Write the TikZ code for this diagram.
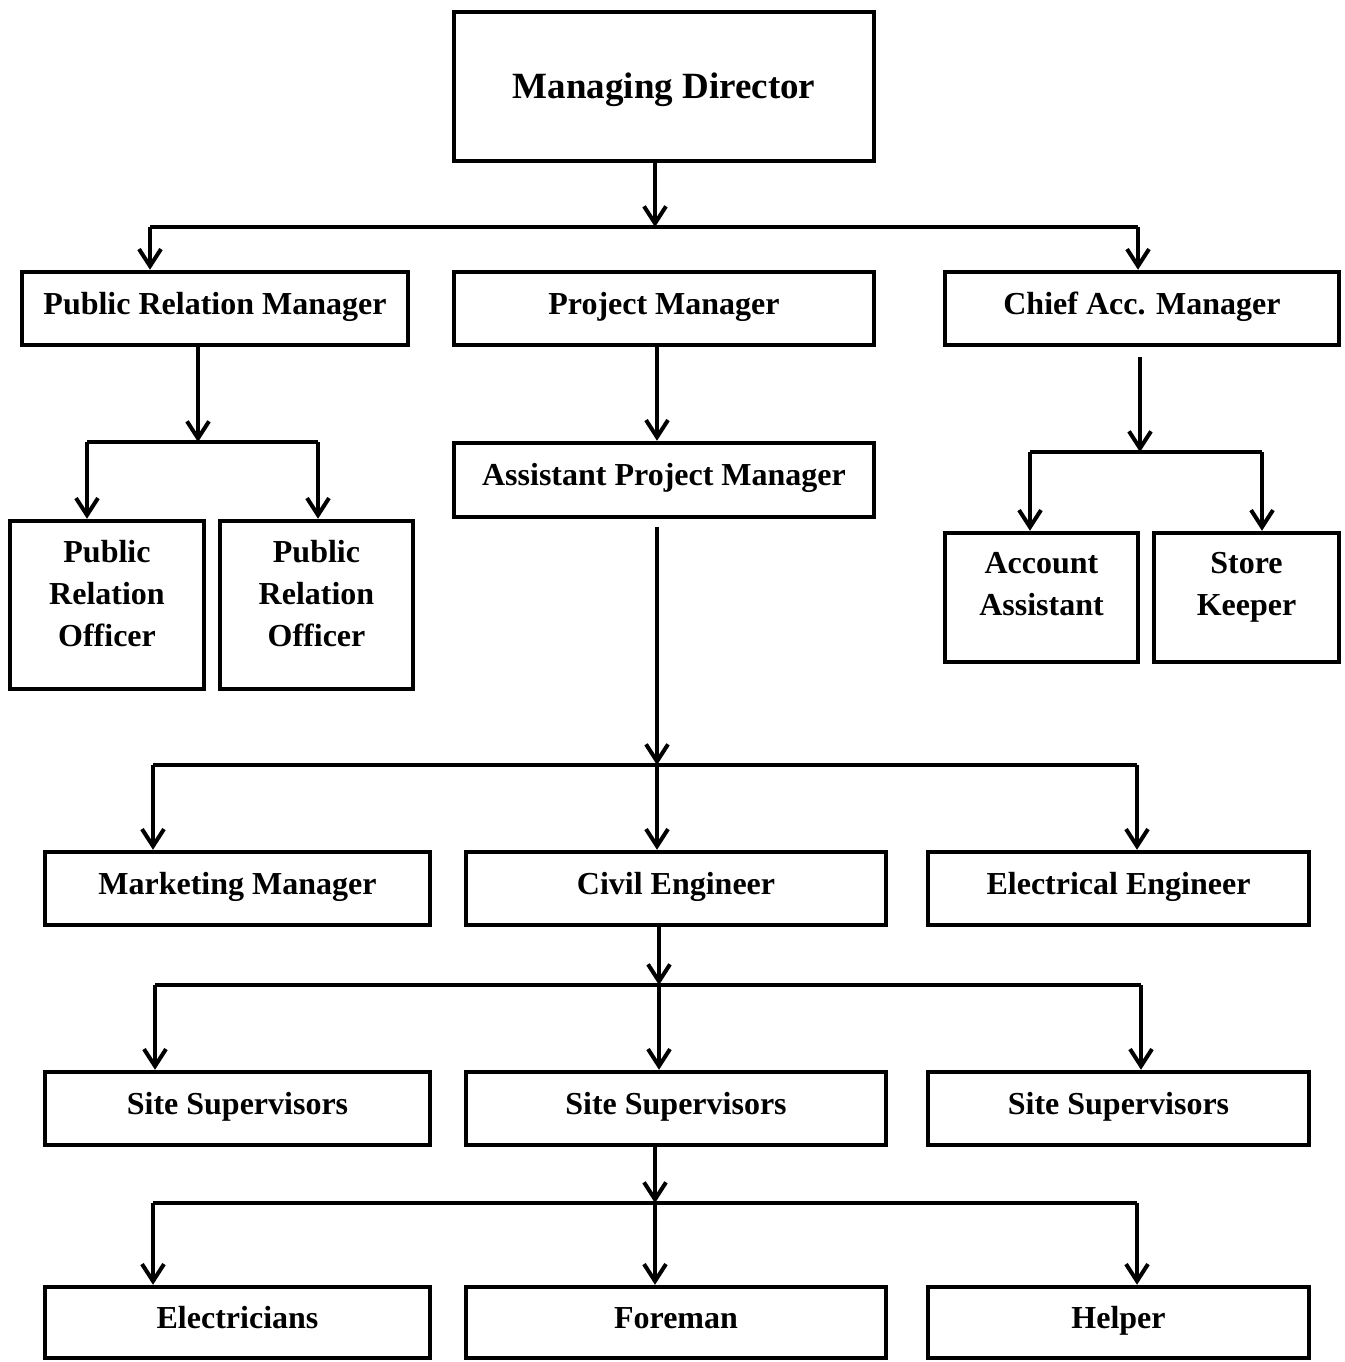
\documentclass[tikz,border=0pt]{standalone}
\usepackage{fontspec}
\setmainfont{Liberation Serif}
\usetikzlibrary{arrows.meta}
\begin{document}
\begin{tikzpicture}[x=1pt,y=-1pt,
  box/.style={draw, line width=4.5pt, inner sep=0pt, align=center,
    text height=20pt, text depth=9pt,
    font=\fontsize{32}{42}\selectfont\bfseries},
  plainbox/.style={draw, line width=4.5pt, inner sep=0pt},
  txt/.style={inner sep=0pt, align=center, font=\fontsize{32}{42}\selectfont\bfseries},
  conn/.style={line width=4pt, line join=miter},
  arr/.style={conn, -{Straight Barb[length=17pt,width=22pt]}}
]
\useasboundingbox (0,0) rectangle (1344,1362);
% boxes
\node[box, minimum width=420, minimum height=149, text height=30pt, text depth=5pt,
  font=\fontsize{37}{44}\selectfont\bfseries] (md) at (664,86.5) {Managing Director};
\node[box, minimum width=386, minimum height=73] (prm) at (215,308.5) {Public Relation Manager};
\node[box, minimum width=420, minimum height=73] (pm) at (664,308.5) {Project Manager};
\node[box, minimum width=394, minimum height=73] (cam) at (1142,308.5) {Chief Acc. Manager};
\node[plainbox, minimum width=194, minimum height=168] (pro1) at (107,605) {};
\node[txt] (pro1t) at (107,595.6) {\strut Public\\Relation\\Officer\strut};
\node[plainbox, minimum width=193, minimum height=168] (pro2) at (316.5,605) {};
\node[txt] (pro2t) at (316.5,595.6) {\strut Public\\Relation\\Officer\strut};
\node[box, minimum width=420, minimum height=74] (apm) at (664,480) {Assistant Project Manager};
\node[plainbox, minimum width=193, minimum height=129] (aa) at (1041.5,597.5) {};
\node[txt] (aat) at (1041.5,586) {\strut Account\\Assistant\strut};
\node[plainbox, minimum width=185, minimum height=129] (sk) at (1246.5,597.5) {};
\node[txt] (skt) at (1246.5,586) {\strut Store\\Keeper\strut};
\node[box, minimum width=385, minimum height=73] (mm) at (237.5,888.5) {Marketing Manager};
\node[box, minimum width=420, minimum height=73] (ce) at (676,888.5) {Civil Engineer};
\node[box, minimum width=381, minimum height=73] (ee) at (1118.5,888.5) {Electrical Engineer};
\node[box, minimum width=385, minimum height=73] (ss1) at (237.5,1108.5) {Site Supervisors};
\node[box, minimum width=420, minimum height=73] (ss2) at (676,1108.5) {Site Supervisors};
\node[box, minimum width=381, minimum height=73] (ss3) at (1118.5,1108.5) {Site Supervisors};
\node[box, minimum width=385, minimum height=71] (el) at (237.5,1322.5) {Electricians};
\node[box, minimum width=420, minimum height=71] (fo) at (676,1322.5) {Foreman};
\node[box, minimum width=381, minimum height=71] (he) at (1118.5,1322.5) {Helper};
% junctions
\coordinate (j1) at (655,227);
\coordinate (j1l) at (150,227);
\coordinate (j1r) at (1138,227);
\coordinate (j2) at (198,442);
\coordinate (j2l) at (87,442);
\coordinate (j2r) at (318,442);
\coordinate (j3s) at (657,347);
\coordinate (j4s) at (1140,357);
\coordinate (j4) at (1140,452);
\coordinate (j4l) at (1030,452);
\coordinate (j4r) at (1262,452);
\coordinate (j5s) at (657,527);
\coordinate (j5) at (657,765);
\coordinate (j5l) at (153,765);
\coordinate (j5r) at (1137,765);
\coordinate (j6) at (659,985);
\coordinate (j6l) at (155,985);
\coordinate (j6r) at (1141,985);
\coordinate (j7) at (655,1203);
\coordinate (j7l) at (153,1203);
\coordinate (j7r) at (1137,1203);
% connectors
\draw[arr] (md.south -| j1) -- (j1);
\draw[conn] (j1l) -- (j1r);
\draw[arr] (j1l) -- (prm.north -| j1l);
\draw[arr] (j1r) -- (cam.north -| j1r);

\draw[arr] (prm.south -| j2) -- (j2);
\draw[conn] (j2l) -- (j2r);
\draw[arr] (j2l) -- (pro1.north -| j2l);
\draw[arr] (j2r) -- (pro2.north -| j2r);

\draw[arr] (pm.south -| j3s) -- (apm.north -| j3s);

\draw[arr] (j4s) -- (j4);
\draw[conn] (j4l) -- (j4r);
\draw[arr] (j4l) -- (aa.north -| j4l);
\draw[arr] (j4r) -- (sk.north -| j4r);

\draw[arr] (j5s) -- (j5);
\draw[conn] (j5l) -- (j5r);
\draw[arr] (j5l) -- (mm.north -| j5l);
\draw[arr] (j5) -- (ce.north -| j5);
\draw[arr] (j5r) -- (ee.north -| j5r);

\draw[arr] (ce.south -| j6) -- (j6);
\draw[conn] (j6l) -- (j6r);
\draw[arr] (j6l) -- (ss1.north -| j6l);
\draw[arr] (j6) -- (ss2.north -| j6);
\draw[arr] (j6r) -- (ss3.north -| j6r);

\draw[arr] (ss2.south -| j7) -- (j7);
\draw[conn] (j7l) -- (j7r);
\draw[arr] (j7l) -- (el.north -| j7l);
\draw[arr] (j7) -- (fo.north -| j7);
\draw[arr] (j7r) -- (he.north -| j7r);
\end{tikzpicture}
\end{document}
